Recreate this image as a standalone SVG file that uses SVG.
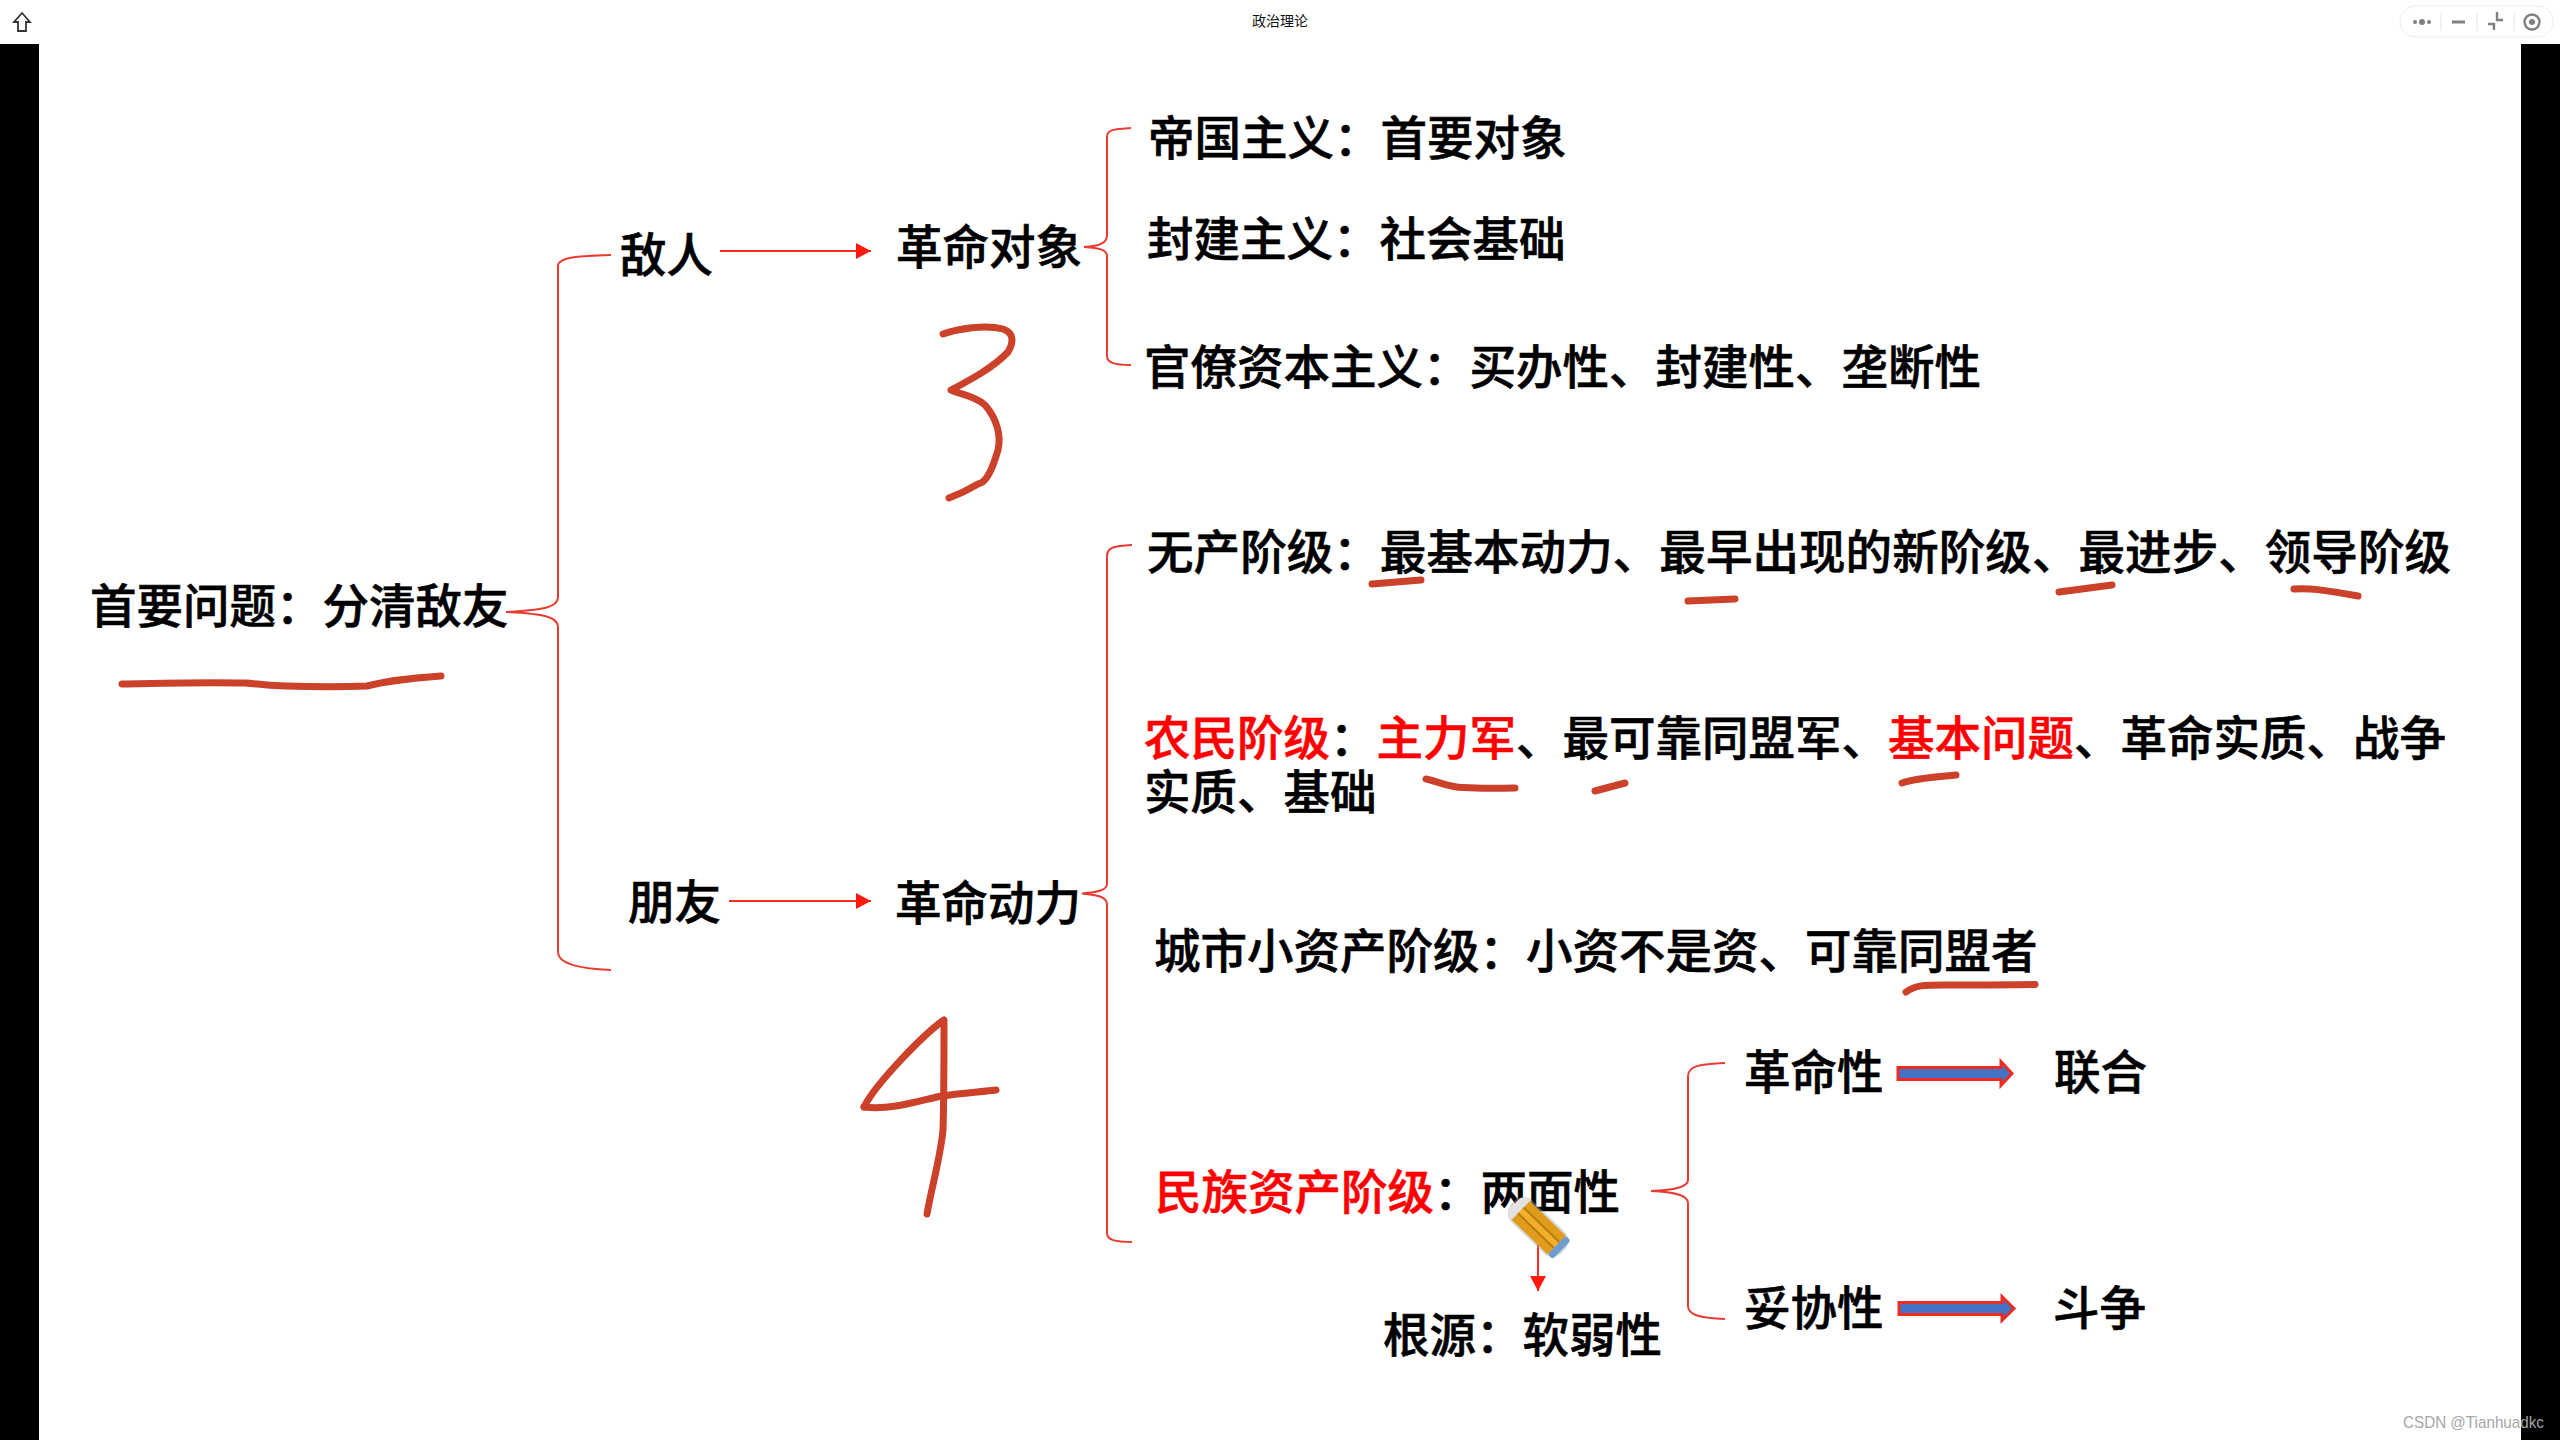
<svg xmlns="http://www.w3.org/2000/svg" width="2560" height="1440" viewBox="0 0 2560 1440">
<defs>
<style>
.t{font-family:"Noto Sans CJK SC","Noto Sans CJK TC",sans-serif;font-size:46.5px;font-weight:500;fill:#000;stroke:#000;stroke-width:.6}
.r{fill:#ff0000;stroke:#ff0000}
.b{fill:none;stroke:#ea3b30;stroke-width:2}
.a{fill:none;stroke:#ff2a20;stroke-width:2}
.h{fill:none;stroke:#cc4129;stroke-linecap:round;stroke-linejoin:round;stroke-width:7}
.ba{fill:#4472c4;stroke:#ee2c24;stroke-width:3}
.w{fill:none;stroke:#808080;stroke-width:2.4}
</style>
<marker id="ah" markerUnits="userSpaceOnUse" markerWidth="16" markerHeight="16" refX="15" refY="8" orient="auto"><path d="M0 0L15 8L0 16Z" fill="#ff1a10"/></marker>
</defs>
<rect width="2560" height="1440" fill="#fff"/>
<rect x="0" y="44" width="39" height="1396" fill="#000"/>
<rect x="2521" y="44" width="39" height="1396" fill="#000"/>
<g id="titlebar">
<path d="M22 13L14 22H18V31H26V22H30Z" fill="none" stroke="#333" stroke-width="1.800"/>
<text x="1280" y="26" text-anchor="middle" font-family="'Noto Sans CJK SC',sans-serif" font-size="14" fill="#111">政治理论</text>
<rect x="2400" y="6" width="153" height="31" rx="15" fill="#fff" stroke="#eee" stroke-width="1"/>
<circle cx="2415" cy="22" r="2" fill="#808080"/><circle cx="2422" cy="22" r="3" fill="#808080"/><circle cx="2429" cy="22" r="2" fill="#808080"/>
<path d="M2441 13V31M2477 13V31M2514 13V31" stroke="#e2e2e2" stroke-width="1" fill="none"/>
<path d="M2452 22H2465" stroke="#808080" stroke-width="3"/>
<path class="w" d="M2488 24H2494V30M2497 12V20H2503"/>
<circle class="w" cx="2532" cy="22" r="7.500"/><circle cx="2532" cy="22" r="3" fill="#808080"/>
</g>
<g id="connectors">
<path class="b" d="M611 255C585 256 558 256 558 266V597C558 607 545 610 506 612C545 614 558 617 558 627V952C558 965 585 969 611 970"/>
<path class="b" d="M1131 128C1115 129 1107 129 1107 137V235C1107 243 1100 246 1084 247C1100 248 1107 250 1107 256V356C1107 363 1115 365 1131 365"/>
<path class="b" d="M1132 545C1115 546 1107 547 1107 556V884C1107 890 1098 892 1082 893.500C1098 895 1107 897 1107 904V1233C1107 1240 1115 1242 1132 1242"/>
<path class="b" d="M1725 1063C1700 1064 1688 1066 1688 1076V1180C1688 1187 1675 1190 1651 1191C1675 1192 1688 1195 1688 1203V1306C1688 1315 1700 1318 1725 1319"/>
<path class="a" marker-end="url(#ah)" d="M720 251H871"/>
<path class="a" marker-end="url(#ah)" d="M729 901H871"/>
<path class="a" marker-end="url(#ah)" d="M1538 1225V1291"/>
<path class="ba" d="M1898 1067.500H2001V1061.500L2012 1073.500L2001 1085.500V1079.500H1898Z"/>
<path class="ba" d="M1899 1302.500H2002V1296.500L2014 1308.500L2002 1320.500V1314.500H1899Z"/>
</g>
<g id="n-root"><text class="t" x="90" y="623">首要问题：分清敌友</text></g>
<g id="n-enemy"><text class="t" x="620" y="272">敌人</text></g>
<g id="n-target"><text class="t" x="896" y="264">革命对象</text></g>
<g id="n-imperial"><text class="t" x="1148" y="155">帝国主义：首要对象</text></g>
<g id="n-feudal"><text class="t" x="1147" y="256">封建主义：社会基础</text></g>
<g id="n-bureau"><text class="t" x="1144" y="384">官僚资本主义：买办性、封建性、垄断性</text></g>
<g id="n-friend"><text class="t" x="628" y="919">朋友</text></g>
<g id="n-force"><text class="t" x="895" y="920">革命动力</text></g>
<g id="n-proletariat"><text class="t" x="1147" y="569" textLength="1304">无产阶级：最基本动力、最早出现的新阶级、最进步、领导阶级</text></g>
<g id="n-peasant"><text class="t" x="1144" y="755"><tspan class="r">农民阶级</tspan>：<tspan class="r">主力军</tspan>、最可靠同盟军、<tspan class="r">基本问题</tspan>、革命实质、战争<tspan x="1144" y="809">实质、基础</tspan></text></g>
<g id="n-petty"><text class="t" x="1154" y="968">城市小资产阶级：小资不是资、可靠同盟者</text></g>
<g id="n-national"><text class="t" x="1155" y="1209"><tspan class="r">民族资产阶级</tspan>：两面性</text></g>
<g id="n-root-cause"><text class="t" x="1383" y="1352">根源：软弱性</text></g>
<g id="n-rev"><text class="t" x="1744" y="1089">革命性</text></g>
<g id="n-unite"><text class="t" x="2054" y="1089">联合</text></g>
<g id="n-comp"><text class="t" x="1744" y="1325">妥协性</text></g>
<g id="n-fight"><text class="t" x="2053" y="1325">斗争</text></g>
<g id="handwriting">
<path class="h" d="M122 684C165 683 205 682 245 683C260 684 270 686 286 686C315 687 345 687 367 686C390 680 415 678 441 676"/>
<path class="h" d="M943 334C958 329 985 324 1003 329C1014 333 1014 342 1008 352C993 368 968 381 951 390C962 395 975 396 985 405C998 420 1001 437 998 450C993 467 987 483 978 484C968 490 957 495 949 498"/>
<path class="h" d="M864 1107C876 1083 925 1033 944 1020C944 1060 944 1100 943 1130C940 1160 932 1185 927 1214"/>
<path class="h" d="M864 1107C890 1110 915 1102 939 1096.500C960 1093 980 1092 996 1090"/>
<path class="h" d="M1372 584L1421 580"/>
<path class="h" d="M1688 601L1735 599"/>
<path class="h" d="M2059 592L2112 585"/>
<path class="h" d="M2294 589C2310 588 2325 590 2358 596"/>
<path class="h" d="M1426 779C1440 782 1450 788 1464 787.500C1485 789 1500 788 1515 788"/>
<path class="h" d="M1595 791L1625 783"/>
<path class="h" d="M1902 783C1915 778 1935 777 1956 775"/>
<path class="h" d="M1906 992C1915 985 1925 985 1945 985C1975 985 2005 985 2035 984.500"/>
</g>
<g id="pencil" transform="translate(1538 1227) rotate(44)">
<rect x="-35" y="-15" width="70" height="30" rx="13" fill="#9aa8b4" opacity=".45"/>
<rect x="-33" y="-13" width="14" height="26" rx="7" fill="#e2e2e2"/>
<rect x="-24" y="-13" width="50" height="26" fill="#e09c1a"/>
<rect x="-24" y="-4" width="50" height="8" fill="#f2b02a"/>
<rect x="-24" y="-5" width="50" height="2" fill="#b57c12"/>
<rect x="-24" y="3" width="50" height="2" fill="#b57c12"/>
<rect x="26" y="-13" width="7" height="26" rx="3" fill="#6f9ccc"/>
</g>
<text id="watermark" x="2403" y="1428" font-family="'Liberation Sans',sans-serif" font-size="17" fill="#a6a6a6" textLength="141" lengthAdjust="spacingAndGlyphs">CSDN @Tianhuadkc</text>
</svg>
